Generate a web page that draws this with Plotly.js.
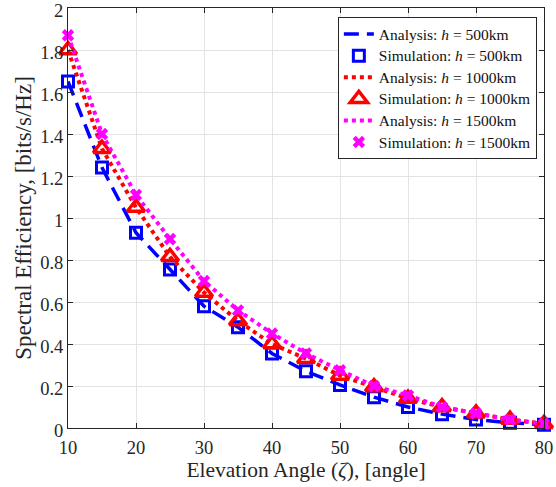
<!DOCTYPE html>
<html>
<head>
<meta charset="utf-8">
<script src="https://cdn.plot.ly/plotly-3.0.1.min.js"></script>
<style>html,body{margin:0;padding:0;background:#fff;}#chart{width:556px;height:487px;}</style>
</head>
<body>
<div id="chart"></div>
<script>
const angles = [10, 15, 20, 25, 30, 35, 40, 45, 50, 55, 60, 65, 70, 75, 80];
const sim500  = [1.65, 1.24, 0.93, 0.755, 0.58, 0.48, 0.355, 0.27, 0.205, 0.147, 0.10, 0.066, 0.04, 0.025, 0.015];
const sim1000 = [1.80, 1.33, 1.05, 0.815, 0.645, 0.51, 0.40, 0.33, 0.25, 0.195, 0.14, 0.10, 0.07, 0.04, 0.02];
const sim1500 = [1.87, 1.40, 1.11, 0.90, 0.70, 0.56, 0.45, 0.355, 0.275, 0.20, 0.155, 0.10, 0.07, 0.04, 0.02];
const ana500  = sim500;
const ana1000 = sim1000;
const ana1500 = sim1500;
const xTicks = [10, 20, 30, 40, 50, 60, 70, 80];
const yTicks = [0, 0.2, 0.4, 0.6, 0.8, 1, 1.2, 1.4, 1.6, 1.8, 2];
const seriesNames = [
  'Analysis: <i>h</i> = 500km', 'Simulation: <i>h</i> = 500km',
  'Analysis: <i>h</i> = 1000km', 'Simulation: <i>h</i> = 1000km',
  'Analysis: <i>h</i> = 1500km', 'Simulation: <i>h</i> = 1500km'
];

const FONT = "Liberation Serif, DejaVu Serif, serif";
const lg = s => '<span style="font-size:15.5px">' + s + '</span>';

const traces = [
  {x: angles, y: ana500, mode: 'lines', name: lg(seriesNames[0]),
   line: {color: '#0000ff', width: 3.5, dash: '15px,8px'}, cliponaxis: false},
  {x: angles, y: sim500, mode: 'markers', name: lg(seriesNames[1]),
   marker: {symbol: 'square-open', size: 11, color: '#0000ff', line: {width: 3, color: '#0000ff'}}, cliponaxis: false},
  {x: angles, y: ana1000, mode: 'lines', name: lg(seriesNames[2]),
   line: {color: '#ff0000', width: 4, dash: 'dot'}, cliponaxis: false},
  {x: angles, y: sim1000, mode: 'markers', name: lg(seriesNames[3]),
   marker: {symbol: 'triangle-up-open', size: 15, color: '#ff0000', line: {width: 3.5, color: '#ff0000'}}, cliponaxis: false},
  {x: angles, y: ana1500, mode: 'lines', name: lg(seriesNames[4]),
   line: {color: '#ff00ff', width: 4, dash: 'dot'}, cliponaxis: false},
  {x: angles, y: sim1500, mode: 'markers', name: lg(seriesNames[5]),
   marker: {symbol: 'x', size: 11, color: '#ff00ff', line: {width: 0}}, cliponaxis: false}
];

const axisCommon = {
  showline: true, linecolor: '#262626', linewidth: 1, mirror: 'ticks',
  ticks: 'inside', ticklen: 5, tickwidth: 1, tickcolor: '#262626',
  showgrid: true, gridcolor: '#e3e3e3', gridwidth: 1, zeroline: false,
  ticklabeloverflow: 'allow',
  tickfont: {family: FONT, size: 18.5, color: '#262626'}
};

const layout = {
  width: 556, height: 487,
  margin: {l: 68, r: 12, t: 8, b: 59},
  paper_bgcolor: '#fff', plot_bgcolor: '#fff',
  showlegend: true,
  legend: {x: 0.985, y: 0.978, xanchor: 'right', yanchor: 'top',
    bgcolor: '#fff', bordercolor: '#262626', borderwidth: 1,
    font: {family: FONT, size: 14.3, color: '#111'}, tracegroupgap: 0, itemwidth: 30},
  xaxis: Object.assign({}, axisCommon, {range: [10, 80], tickvals: xTicks, ticklabelstandoff: 3,
    title: {text: 'Elevation Angle (<i>ζ</i>), [angle]', font: {family: FONT, size: 21.5, color: '#262626'}, standoff: 3}}),
  yaxis: Object.assign({}, axisCommon, {range: [0, 2], tickvals: yTicks, ticklabelshift: 3,
    title: {text: 'Spectral Efficiency, [bits/s/Hz]', font: {family: FONT, size: 23, color: '#262626'}, standoff: 2}})
};

Plotly.newPlot('chart', traces, layout, {displayModeBar: false, staticPlot: true});
</script>
</body>
</html>
